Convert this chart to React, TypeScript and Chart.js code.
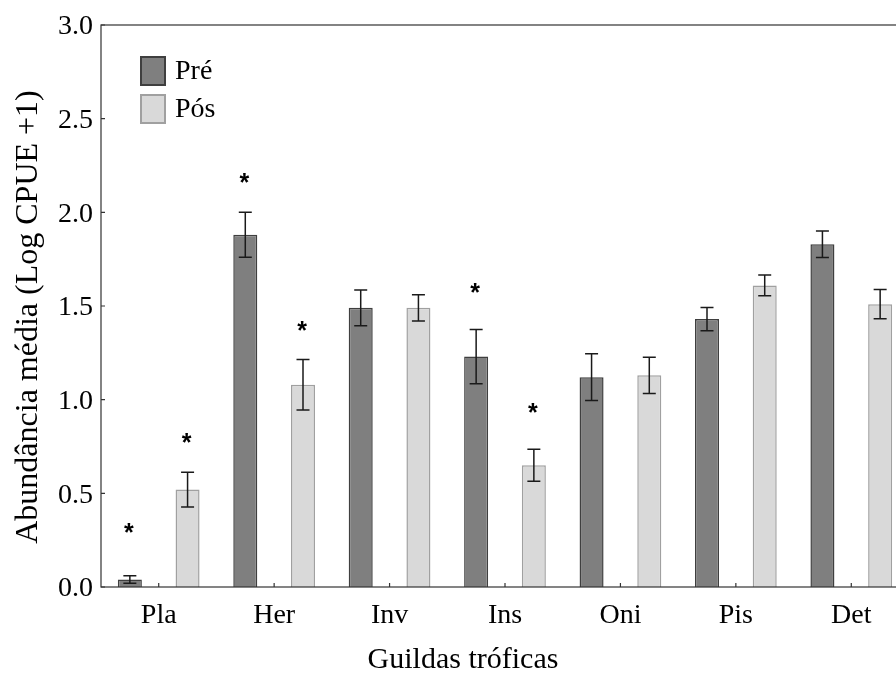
import React, { useEffect, useRef } from "react";
import { Chart, registerables } from "chart.js";

Chart.register(...registerables);

const categories = ["Pla", "Her", "Inv", "Ins", "Oni", "Pis", "Det"];
const seriesLabels = ["Pré", "Pós"];
const preValues = [0.04, 1.88, 1.49, 1.23, 1.12, 1.43, 1.83];
const preErrors = [0.02, 0.12, 0.095, 0.145, 0.125, 0.062, 0.071];
const posValues = [0.52, 1.08, 1.49, 0.65, 1.13, 1.61, 1.51];
const posErrors = [0.093, 0.135, 0.07, 0.085, 0.097, 0.055, 0.078];
const preStars: (number | null)[] = [0.32, 2.19, null, 1.6, null, null, null];
const posStars: (number | null)[] = [0.8, 1.4, null, 0.96, null, null, null];
const xTitle = "Guildas tróficas";
const yTitle = "Abundância média (Log CPUE +1)";
const yMin = 0;
const yMax = 3;
const yStep = 0.5;

const preFill = "#7f7f7f";
const preBorder = "#3f3f3f";
const posFill = "#d9d9d9";
const posBorder = "#a0a0a0";
const SERIF = "'Liberation Serif', 'Times New Roman', serif";

const overlay = {
  id: "overlay",
  afterDatasetsDraw(chart: any) {
    const { ctx, chartArea: a, scales } = chart;
    const x = scales.x;
    const y = scales.y;
    const vals = [preValues, posValues];
    const errs = [preErrors, posErrors];
    const stars = [preStars, posStars];
    ctx.save();
    for (let d = 0; d < 2; d++) {
      const meta = chart.getDatasetMeta(d);
      meta.data.forEach((bar: any, i: number) => {
        const bx = bar.x;
        const yt = y.getPixelForValue(vals[d][i] + errs[d][i]);
        const yb = y.getPixelForValue(vals[d][i] - errs[d][i]);
        ctx.strokeStyle = "#1a1a1a";
        ctx.lineWidth = 1.5;
        ctx.beginPath();
        ctx.moveTo(bx, yt);
        ctx.lineTo(bx, yb);
        ctx.moveTo(bx - 6.5, yt);
        ctx.lineTo(bx + 6.5, yt);
        ctx.moveTo(bx - 6.5, yb);
        ctx.lineTo(bx + 6.5, yb);
        ctx.stroke();
        const s = stars[d][i];
        if (s !== null && s !== undefined) {
          const sy = y.getPixelForValue(s);
          ctx.fillStyle = "#000";
          ctx.font = "bold 25px 'Liberation Sans', Arial, sans-serif";
          ctx.textAlign = "center";
          ctx.textBaseline = "alphabetic";
          ctx.fillText("*", bx - 1, sy + 14);
        }
      });
    }
    // frame
    ctx.strokeStyle = "#333";
    ctx.lineWidth = 1.2;
    ctx.strokeRect(a.left, a.top, a.right - a.left, a.bottom - a.top);
    // inward ticks
    ctx.beginPath();
    y.ticks.forEach((t: any) => {
      const py = y.getPixelForValue(t.value);
      ctx.moveTo(a.left, py);
      ctx.lineTo(a.left + 4, py);
    });
    categories.forEach((_c, i) => {
      const px = x.getPixelForValue(i);
      ctx.moveTo(px, a.bottom);
      ctx.lineTo(px, a.bottom - 4);
    });
    ctx.stroke();
    // legend
    const fills = [preFill, posFill];
    const borders = [preBorder, posBorder];
    seriesLabels.forEach((lab, k) => {
      const lx = a.left + 39;
      const ly = a.top + 31 + k * 38;
      ctx.fillStyle = fills[k];
      ctx.fillRect(lx, ly, 26, 30);
      ctx.strokeStyle = borders[k];
      ctx.lineWidth = 2;
      ctx.strokeRect(lx + 1, ly + 1, 24, 28);
      ctx.fillStyle = "#000";
      ctx.font = `28px ${SERIF}`;
      ctx.textAlign = "left";
      ctx.textBaseline = "middle";
      ctx.fillText(lab, lx + 35, ly + 16);
    });
    // axis titles
    ctx.fillStyle = "#000";
    ctx.font = `30px ${SERIF}`;
    ctx.textAlign = "center";
    ctx.textBaseline = "alphabetic";
    ctx.fillText(xTitle, 463, 668);
    ctx.save();
    ctx.translate(37, (a.top + a.bottom) / 2 + 11);
    ctx.rotate(-Math.PI / 2);
    ctx.font = `32px ${SERIF}`;
    ctx.textAlign = "center";
    ctx.textBaseline = "alphabetic";
    ctx.fillText(yTitle, 0, 0);
    ctx.restore();
    ctx.restore();
  },
};

export default function App() {
  const ref = useRef<HTMLCanvasElement | null>(null);
  useEffect(() => {
    if (!ref.current) return;
    const chart = new Chart(ref.current, {
      type: "bar",
      data: {
        labels: categories,
        datasets: [
          {
            label: seriesLabels[0],
            data: preValues,
            backgroundColor: preFill,
            borderColor: preBorder,
            borderWidth: 1.5,
            categoryPercentage: 1.0,
            barPercentage: 0.416,
          },
          {
            label: seriesLabels[1],
            data: posValues,
            backgroundColor: posFill,
            borderColor: posBorder,
            borderWidth: 1.5,
            categoryPercentage: 1.0,
            barPercentage: 0.416,
          },
        ],
      },
      options: {
        responsive: false,
        animation: false,
        layout: { padding: { top: 25, right: 2, left: 0, bottom: 0 } },
        plugins: {
          legend: { display: false },
          tooltip: { enabled: false },
        },
        scales: {
          x: {
            grid: { display: false, drawTicks: false },
            border: { display: false },
            ticks: {
              color: "#000",
              padding: 12,
              font: { family: SERIF, size: 28 },
              maxRotation: 0,
            },
            title: { display: false },
            afterFit: (s: any) => {
              s.height = 88;
            },
          },
          y: {
            min: yMin,
            max: yMax,
            grid: { display: false, drawTicks: false },
            border: { display: false },
            ticks: {
              stepSize: yStep,
              color: "#000",
              padding: 8,
              labelOffset: 2,
              font: { family: SERIF, size: 28 },
              callback: (v: any) => Number(v).toFixed(1),
            },
            title: { display: false },
            afterFit: (s: any) => {
              s.width = 101;
            },
          },
        },
      },
      plugins: [overlay],
    });
    return () => chart.destroy();
  }, []);
  return (
    <div
      style={{
        position: "fixed",
        left: 0,
        top: 0,
        width: 896,
        height: 675,
        overflow: "hidden",
        background: "#fff",
      }}
    >
      <canvas ref={ref} width={911} height={675} style={{ width: 911, height: 675, display: "block" }} />
    </div>
  );
}
